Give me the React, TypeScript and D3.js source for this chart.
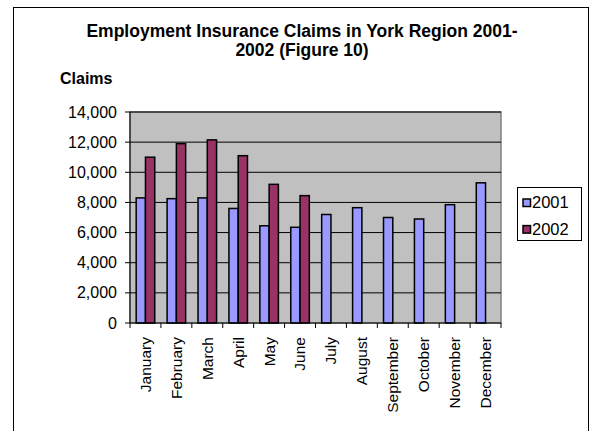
import React from "react";
import * as d3 from "d3";

const months = ["January","February","March","April","May","June","July","August","September","October","November","December"];
const series = ["2001", "2002"];
const values2001 = [8300, 8250, 8300, 7600, 6450, 6350, 7200, 7650, 7000, 6900, 7850, 9300];
const values2002: (number | null)[] = [11000, 11900, 12150, 11100, 9200, 8450, null, null, null, null, null, null];
const yTicks = [0, 2000, 4000, 6000, 8000, 10000, 12000, 14000];
const colors = ["#9999FF", "#993366"];

export default function App() {
  const W = 590, H = 431;
  const left = 130, right = 501, top = 112, bottom = 323;
  const x = d3.scaleBand<string>().domain(months).range([left, right]).paddingInner(0.4).paddingOuter(0.2);
  const xs = d3.scaleBand<string>().domain(series).range([0, x.bandwidth()]).padding(0);
  const y = d3.scaleLinear().domain([0, 14000]).range([bottom, top]);
  const fmt = d3.format(",");
  const step = x.step();
  const font = "Arial, 'Liberation Sans', Helvetica, sans-serif";
  const data = [values2001, values2002];

  return (
    <svg width={W} height={H} style={{ position: "absolute", left: 0, top: 0, background: "#fff" }} fontFamily={font}>
      <rect x={13.5} y={7.5} width={575} height={440} fill="#fff" stroke="#000" strokeWidth={1} />
      <text x={302} y={36.5} textAnchor="middle" fontSize={17.5} fontWeight="bold">Employment Insurance Claims in York Region 2001-</text>
      <text x={302} y={55.5} textAnchor="middle" fontSize={17.5} fontWeight="bold">2002 (Figure 10)</text>
      <text x={60} y={84} fontSize={16} fontWeight="bold">Claims</text>

      <rect x={left} y={top} width={right - left} height={bottom - top} fill="#C0C0C0" stroke="#808080" strokeWidth={1.5} />
      {yTicks.filter(t => t > 0).map(t => (
        <line key={"g" + t} x1={left} x2={right} y1={y(t)} y2={y(t)} stroke="#000" strokeWidth={1} />
      ))}

      {months.map((m, i) => series.map((s, j) => {
        const v = data[j][i];
        if (v == null) return null;
        return (
          <rect key={m + s} x={(x(m) as number) + (xs(s) as number)} y={y(v)} width={xs.bandwidth()} height={bottom - y(v)}
            fill={colors[j]} stroke="#000" strokeWidth={1.5} />
        );
      }))}

      <line x1={left} x2={left} y1={top} y2={bottom} stroke="#000" strokeWidth={1} />
      <line x1={left} x2={right} y1={bottom} y2={bottom} stroke="#000" strokeWidth={1} />
      {yTicks.map(t => (
        <g key={"t" + t}>
          <line x1={left - 5} x2={left} y1={y(t)} y2={y(t)} stroke="#000" />
          <text x={117} y={y(t)} dy="0.35em" textAnchor="end" fontSize={16}>{fmt(t)}</text>
        </g>
      ))}
      {d3.range(months.length + 1).map(i => (
        <line key={"xt" + i} x1={left + i * step} x2={left + i * step} y1={bottom} y2={bottom + 5} stroke="#000" />
      ))}
      {months.map(m => {
        const cx = (x(m) as number) + x.bandwidth() / 2;
        return (
          <text key={"l" + m} transform={`translate(${cx},${bottom + 14}) rotate(-90)`} dy="0.35em" textAnchor="end" fontSize={15.5}>{m}</text>
        );
      })}

      <rect x={517.5} y={187.5} width={64} height={53} fill="#fff" stroke="#000" strokeWidth={1} />
      {series.map((s, j) => (
        <g key={"lg" + s}>
          <rect x={523} y={199 + j * 26.6} width={7.5} height={7.5} fill={colors[j]} stroke="#000" strokeWidth={1.5} />
          <text x={532} y={202.7 + j * 26.6} dy="0.35em" fontSize={16.5}>{s}</text>
        </g>
      ))}
    </svg>
  );
}
